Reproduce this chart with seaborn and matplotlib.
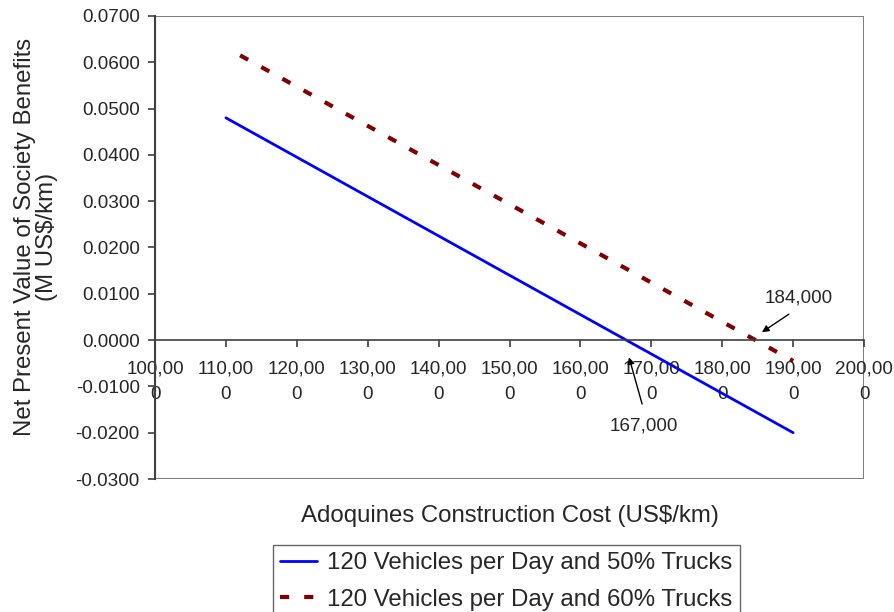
import matplotlib
matplotlib.use("Agg")
import matplotlib.pyplot as plt
from matplotlib.patches import Rectangle
import seaborn as sns
import pandas as pd

# Net present value of society benefits vs. adoquines construction cost
cost_50 = [110000, 190000]
npv_50 = [0.048, -0.020]
cost_60 = [112000, 190000]
npv_60 = [0.0615, -0.0045]

label_50 = "120 Vehicles per Day and 50% Trucks"
label_60 = "120 Vehicles per Day and 60% Trucks"

x_ticks = list(range(100000, 200001, 10000))
x_tick_labels = ["100,00\n0", "110,00\n0", "120,00\n0", "130,00\n0", "140,00\n0",
                 "150,00\n0", "160,00\n0", "170,00\n0", "180,00\n0", "190,00\n0",
                 "200,00\n0"]
y_ticks = [-0.03, -0.02, -0.01, 0.0, 0.01, 0.02, 0.03, 0.04, 0.05, 0.06, 0.07]

breakeven_50 = 167000
breakeven_60 = 184000

sns.set_style("white")
plt.rcParams["font.family"] = ["Liberation Sans", "DejaVu Sans"]
TICK_FS = 13.6
TITLE_FS = 17.3

fig = plt.figure(figsize=(8.95, 6.12), dpi=100)
ax = fig.add_axes([0.1732, 0.2173, 0.7922, 0.7566])

df50 = pd.DataFrame({"cost": cost_50, "npv": npv_50})
df60 = pd.DataFrame({"cost": cost_60, "npv": npv_60})
sns.lineplot(data=df50, x="cost", y="npv", ax=ax, color="#0000FF", lw=2.0,
             label=label_50, legend=False)
sns.lineplot(data=df60, x="cost", y="npv", ax=ax, color="#800000", lw=3.0,
             label=label_60, legend=False)
ax.lines[1].set_dashes([2.2, 3.6])
ax.lines[1].set_dash_capstyle("butt")

# plot area border and axes crossing at zero
ax.add_patch(Rectangle((0, 0), 1, 1, transform=ax.transAxes, fill=False,
                       ec="#808080", lw=1.5, zorder=0.5))
for s in ["top", "right"]:
    ax.spines[s].set_visible(False)
ax.spines["left"].set_color("#404040")
ax.spines["left"].set_linewidth(1.5)
ax.spines["bottom"].set_position(("data", 0))
ax.spines["bottom"].set_color("#404040")
ax.spines["bottom"].set_linewidth(1.2)

ax.set_xlim(100000, 200000)
ax.set_ylim(-0.03, 0.07)
ax.set_xticks(x_ticks)
ax.set_xticklabels(x_tick_labels, fontsize=TICK_FS, linespacing=1.6)
ax.set_yticks(y_ticks)
ax.set_yticklabels([f"{v:.4f}" for v in y_ticks], fontsize=TICK_FS)
ax.tick_params(axis="x", direction="out", length=5, width=1.2, color="#404040",
               pad=10, bottom=True)
ax.tick_params(axis="y", direction="out", length=5, width=1.2, color="#404040",
               pad=6, left=True)
ax.set_xlabel("")
ax.set_ylabel("")

fig.text(0.5698, 1 - 516 / 612, "Adoquines Construction Cost (US$/km)",
         ha="center", va="center", fontsize=TITLE_FS)
fig.text(36 / 895, 1 - 237 / 612,
         "Net Present Value of Society Benefits\n(M US$/km)",
         ha="center", va="center", rotation=90, fontsize=TITLE_FS,
         linespacing=0.95)

# break-even annotations
arrow = dict(arrowstyle="-|>", color="black", lw=1, mutation_scale=10,
             shrinkA=0, shrinkB=0)
ax.text(190800, 0.0090, f"{breakeven_60:,}", ha="center", va="center",
        fontsize=TICK_FS)
ax.annotate("", xy=(breakeven_60 + 1600, 0.0017), xytext=(189400, 0.0056),
            arrowprops=arrow)
ax.text(169000, -0.0185, f"{breakeven_50:,}", ha="center", va="center",
        fontsize=TICK_FS)
ax.annotate("", xy=(breakeven_50 - 150, -0.0037), xytext=(168700, -0.0138),
            arrowprops=arrow)

handles, labels = ax.get_legend_handles_labels()
leg = fig.legend(handles, labels, loc="upper left",
                 bbox_to_anchor=(273 / 895, 1 - 545 / 612), fontsize=TITLE_FS,
                 frameon=True, fancybox=False, edgecolor="#404040",
                 handlelength=1.55, handletextpad=0.4, borderpad=0.3,
                 labelspacing=0.6, borderaxespad=0)
leg.get_frame().set_linewidth(1.0)

fig.savefig("out.png", dpi=100)
